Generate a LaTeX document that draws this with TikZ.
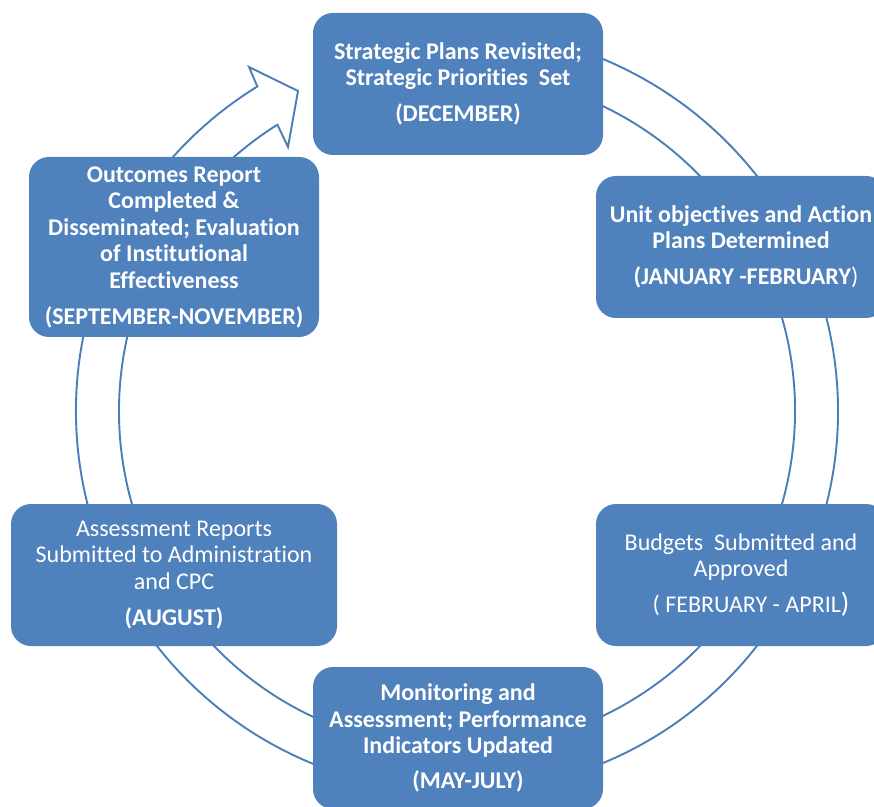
\documentclass[tikz,border=0pt]{standalone}
\usepackage{fontspec}
\setmainfont{Carlito}[Ligatures=NoCommon]
\definecolor{boxblue}{RGB}{79,129,189}
\definecolor{ringblue}{RGB}{74,126,187}
\begin{document}
\begin{tikzpicture}[x=1pt,y=1pt,
  stage/.style={draw=none, fill=boxblue, rounded corners=20pt, minimum width=290pt,
    minimum height=142pt, inner sep=2pt, align=center, text=white,
    font=\fontsize{24}{26.5}\selectfont},
  boldstage/.style={stage, font=\fontsize{24}{26.5}\selectfont\bfseries},
  ring/.style={draw=ringblue, line width=1.9pt, line join=miter}]
\clip (0,0) rectangle (874,806);
\fill[white] (0,0) rectangle (874,806);
% circular arrow (outline)
\draw[ring] (390.8,770.2) arc[start angle=460, end angle=121.6, radius=381]
  -- (249,739) -- (298,715) -- (288,659) -- (277.4,681.3)
  arc[start angle=122.1, end angle=460, radius=338];
% stages
\node[boldstage] (dec) at (458,722)
  {Strategic Plans Revisited;\\Strategic Priorities~ Set\\[9.5pt](DECEMBER)};
\node[boldstage] (jan) at (741,559)
  {Unit objectives and Action\\Plans Determined\\[9.5pt]\hspace*{10pt}(JANUARY -FEBRUARY\textmd{)}};
\node[stage] (feb) at (741,231)
  {Budgets~ Submitted and\\Approved\\[9.5pt]\hspace*{20pt}( FEBRUARY - APRIL{\fontsize{28}{26.5}\selectfont)}};
\node[boldstage] (may) at (458,68)
  {Monitoring and\\Assessment; Performance\\Indicators Updated\\[8.5pt]\hspace*{20pt}(MAY-JULY)};
\node[stage, minimum width=326pt] (aug) at (174,231)
  {Assessment Reports\\Submitted to Administration\\and CPC\\[10pt]\textbf{(AUGUST)}};
\node[boldstage, minimum height=180pt] (sep) at (174,559)
  {Outcomes Report\\Completed \&\\Disseminated; Evaluation\\of Institutional\\Effectiveness\\[9.5pt](SEPTEMBER-NOVEMBER)};
\end{tikzpicture}
\end{document}
